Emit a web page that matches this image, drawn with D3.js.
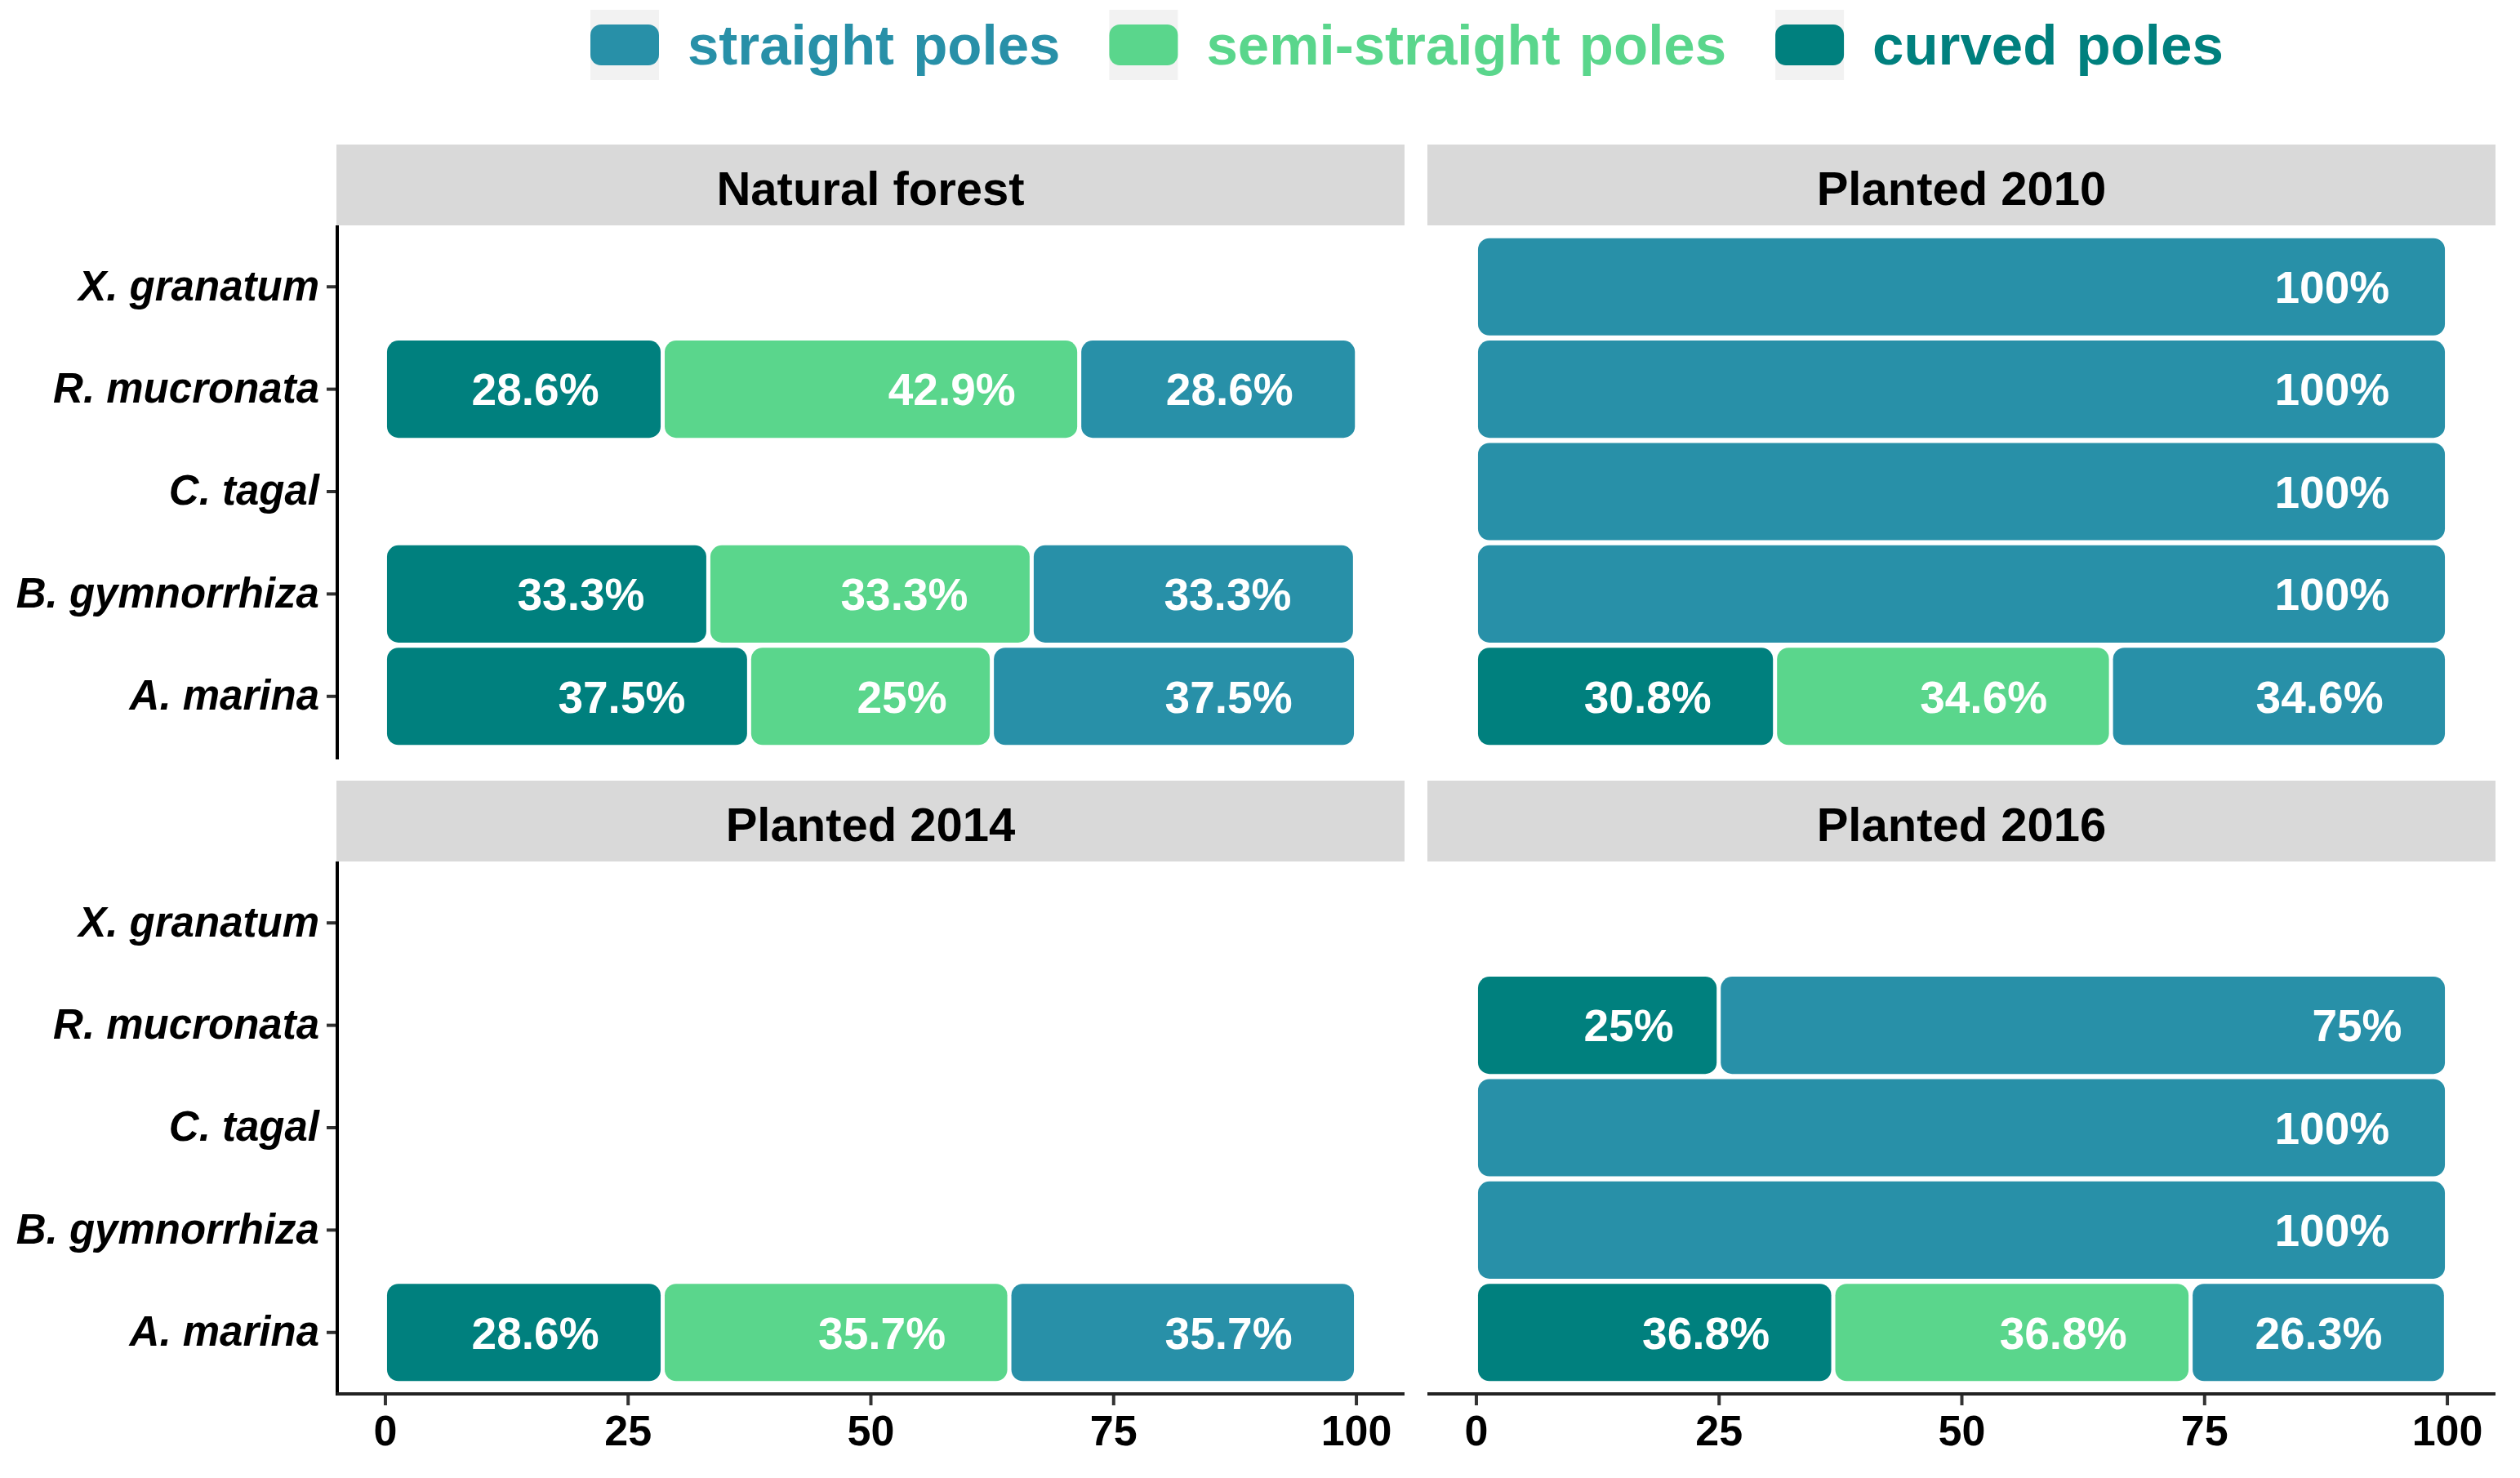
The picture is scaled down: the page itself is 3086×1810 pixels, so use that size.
<!DOCTYPE html>
<html>
<head>
<meta charset="utf-8">
<script src="https://cdn.jsdelivr.net/npm/d3@7"></script>
<style>
  html, body { margin: 0; padding: 0; background: #ffffff; }
  svg { display: block; }
  text { font-family: "Liberation Sans", Arial, Helvetica, sans-serif; }
</style>
</head>
<body>
<svg id="chart" width="3086" height="1810"></svg>
<script>
// ---------------- data ----------------
const panels = ["Natural forest", "Planted 2010", "Planted 2014", "Planted 2016"];
const species = ["X. granatum", "R. mucronata", "C. tagal", "B. gymnorrhiza", "A. marina"];
const seriesNames = ["curved poles", "semi-straight poles", "straight poles"]; // stacking order left -> right
const legendOrder = ["straight poles", "semi-straight poles", "curved poles"];
const seriesColors = ["#00807E", "#5AD68C", "#2890A8"];
const xTicks = [0, 25, 50, 75, 100];

// percentages per panel, in species order (null = no bar for that species)
const curvedPct = [
  [null, 28.6, null, 33.3, 37.5],
  [0, 0, 0, 0, 30.8],
  [null, null, null, null, 28.6],
  [null, 25, 0, 0, 36.8]
];
const semiPct = [
  [null, 42.9, null, 33.3, 25],
  [0, 0, 0, 0, 34.6],
  [null, null, null, null, 35.7],
  [null, 0, 0, 0, 36.8]
];
const straightPct = [
  [null, 28.6, null, 33.3, 37.5],
  [100, 100, 100, 100, 34.6],
  [null, null, null, null, 35.7],
  [null, 75, 100, 100, 26.3]
];
const seriesValues = [curvedPct, semiPct, straightPct];

// ---------------- layout ----------------
const svg = d3.select("#chart");
svg.append("rect").attr("width", 3086).attr("height", 1810).attr("fill", "#ffffff");

const panelLeft = [412, 1748];
const panelW = 1308;
const stripTop = [177, 956];
const stripH = 99;
const panelH = 652;

const color = d3.scaleOrdinal().domain(seriesNames).range(seriesColors);

panels.forEach((pname, pi) => {
  const col = pi % 2, row = Math.floor(pi / 2);
  const x0 = panelLeft[col];
  const sTop = stripTop[row];
  const pTop = sTop + stripH;
  const g = svg.append("g");

  // strip
  g.append("rect").attr("x", x0).attr("y", sTop).attr("width", panelW).attr("height", stripH)
    .attr("fill", "#d9d9d9");
  g.append("text").attr("x", x0 + panelW / 2).attr("y", sTop + stripH / 2 + 4)
    .attr("text-anchor", "middle").attr("dominant-baseline", "central")
    .attr("font-size", 58).attr("font-weight", "bold").attr("fill", "#000")
    .text(pname);

  const x = d3.scaleLinear().domain([-5, 105]).range([x0, x0 + panelW]);
  const y = d3.scaleBand().domain(species).range([pTop, pTop + panelH])
    .paddingInner(0.05).paddingOuter(0.125);

  // bars
  species.forEach((sp, si) => {
    let cum = 0;
    seriesNames.forEach((sn, k) => {
      const v = seriesValues[k][pi][si];
      if (v === null || v === 0) return;
      const start = cum, end = cum + v;
      cum = end;
      const xa = x(start) + 2.5, xb = x(end) - 2.5;
      g.append("rect")
        .attr("x", xa).attr("y", y(sp))
        .attr("width", xb - xa).attr("height", y.bandwidth())
        .attr("rx", 14).attr("ry", 14)
        .attr("fill", color(sn));
      const t = g.append("text")
        .attr("y", y(sp) + y.bandwidth() / 2)
        .attr("dy", "0.36em")
        .attr("text-anchor", "end")
        .attr("font-size", 55).attr("font-weight", "bold").attr("fill", "#ffffff")
        .text(v + "%");
      const w = t.node().getComputedTextLength();
      t.attr("x", x(end) - 0.5 * w);
    });
  });

  // y axis on left column
  if (col === 0) {
    const ya = g.append("g").attr("transform", `translate(${x0 + 1},0)`)
      .call(d3.axisLeft(y).tickSize(13).tickPadding(9));
    ya.select(".domain").remove();
    g.append("line").attr("x1", x0 + 1).attr("x2", x0 + 1)
      .attr("y1", pTop).attr("y2", pTop + panelH + 2)
      .attr("stroke", "#000").attr("stroke-width", 4);
    ya.selectAll(".tick line").attr("stroke", "#333").attr("stroke-width", 4);
    ya.selectAll(".tick text").attr("font-size", 51).attr("font-weight", "bold")
      .attr("font-style", "italic").attr("fill", "#000")
      .attr("font-family", '"Liberation Sans", Arial, sans-serif');
  }
  // x axis on bottom row
  if (row === 1) {
    const xa = g.append("g").attr("transform", `translate(0,${pTop + panelH})`)
      .call(d3.axisBottom(x).tickValues(xTicks).tickSize(14).tickPadding(12));
    xa.select(".domain").remove();
    g.append("line").attr("x1", x0).attr("x2", x0 + panelW)
      .attr("y1", pTop + panelH).attr("y2", pTop + panelH)
      .attr("stroke", "#222").attr("stroke-width", 4);
    xa.selectAll(".tick line").attr("stroke", "#333").attr("stroke-width", 4);
    xa.selectAll(".tick text").attr("font-size", 52).attr("font-weight", "bold")
      .attr("fill", "#000").attr("font-family", '"Liberation Sans", Arial, sans-serif');
  }
});

// ---------------- legend ----------------
const leg = svg.append("g");
let lx = 723;
legendOrder.forEach((name) => {
  leg.append("rect").attr("x", lx).attr("y", 12).attr("width", 84).attr("height", 86)
    .attr("fill", "#f2f2f2");
  leg.append("rect").attr("x", lx).attr("y", 30).attr("width", 84).attr("height", 50)
    .attr("rx", 13).attr("ry", 13).attr("fill", color(name));
  const t = leg.append("text").attr("x", lx + 119).attr("y", 55).attr("dy", "0.35em")
    .attr("font-size", 69).attr("font-weight", "bold").attr("fill", color(name))
    .attr("word-spacing", 4)
    .text(name);
  lx = lx + 119 + t.node().getComputedTextLength() + 60;
});
</script>
</body>
</html>
